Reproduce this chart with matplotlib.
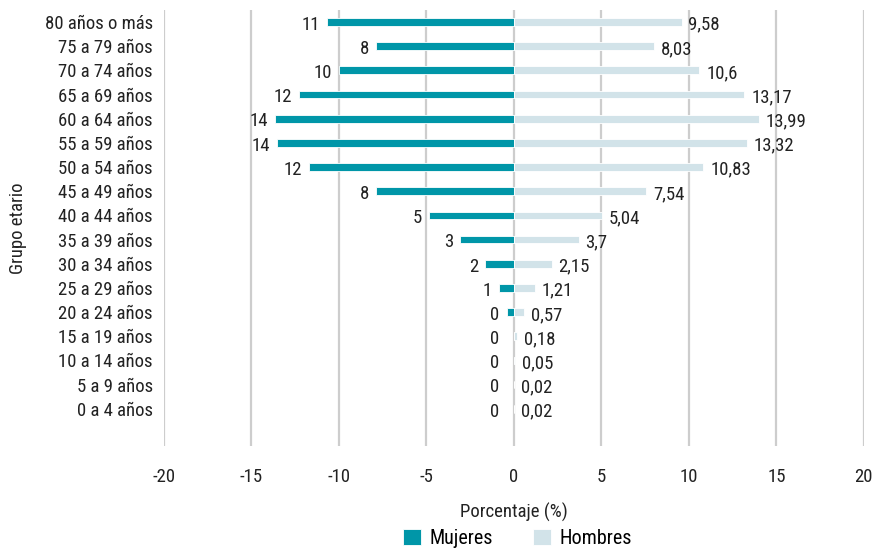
import matplotlib
matplotlib.use("Agg")
from matplotlib import pyplot as plt
from matplotlib import font_manager

grupos = ["0 a 4 años", "5 a 9 años", "10 a 14 años", "15 a 19 años", "20 a 24 años",
          "25 a 29 años", "30 a 34 años", "35 a 39 años", "40 a 44 años", "45 a 49 años",
          "50 a 54 años", "55 a 59 años", "60 a 64 años", "65 a 69 años", "70 a 74 años",
          "75 a 79 años", "80 años o más"]
mujeres = [0, 0, 0, 0.02, 0.38, 0.84, 1.63, 3.08, 4.88, 7.86,
           11.72, 13.52, 13.66, 12.27, 10.0, 7.86, 10.7]
hombres = [0.02, 0.02, 0.05, 0.18, 0.57, 1.21, 2.15, 3.7, 5.04, 7.54,
           10.83, 13.32, 13.99, 13.17, 10.6, 8.03, 9.58]
ticks = [-20, -15, -10, -5, 0, 5, 10, 15, 20]

names = {f.name for f in font_manager.fontManager.ttflist}
fam = [f for f in ["Liberation Sans Narrow", "Roboto Condensed", "Open Sans Condensed"] if f in names]
plt.rcParams['font.family'] = fam + ["DejaVu Sans"]
plt.rcParams['font.size'] = 13.5

c_muj = "#0096a8"
c_hom = "#d2e3e9"
txt = "#222222"

fig = plt.figure(figsize=(8.77, 5.49), dpi=100)
ax = fig.add_axes([0.187, 0.188, 0.798, 0.794])
y = list(range(len(grupos)))
ax.barh(y, [-v for v in mujeres], height=0.32, color=c_muj, edgecolor="white", linewidth=0.6, zorder=3, label="Mujeres")
ax.barh(y, hombres, height=0.32, color=c_hom, edgecolor="white", linewidth=0.6, zorder=3, label="Hombres")

for yi, m, h in zip(y, mujeres, hombres):
    ax.annotate(str(int(round(m))), (-max(m, 0.45), yi), xytext=(-5, -2), textcoords="offset points",
                ha="right", va="center", color=txt)
    ax.annotate(f"{h:g}".replace(".", ","), (h, yi), xytext=(5, -2), textcoords="offset points",
                ha="left", va="center", color=txt)

ax.set_xlim(-20, 20)
ax.set_ylim(-1.53, 16.5)
ax.set_xticks(ticks)
ax.set_xticklabels([str(t) for t in ticks])
ax.set_yticks(y)
ax.set_yticklabels(grupos)
ax.tick_params(length=0, colors=txt, pad=8)
ax.tick_params(axis="x", pad=16)
ax.grid(axis="x", color="#cdcdcd", linewidth=1.6)
ax.set_axisbelow(True)
for s in ax.spines.values():
    s.set_visible(False)
ax.set_xlabel("Porcentaje (%)", color=txt, labelpad=12)
ax.set_ylabel("Grupo etario", color=txt, labelpad=13)
ax.legend(loc="upper center", bbox_to_anchor=(0.505, -0.19), ncol=2, frameon=False,
          handlelength=0.9, handleheight=0.9, columnspacing=2.0, handletextpad=0.4, fontsize=14.5,
          borderaxespad=0, borderpad=0)
fig.savefig("out.png", dpi=100)
